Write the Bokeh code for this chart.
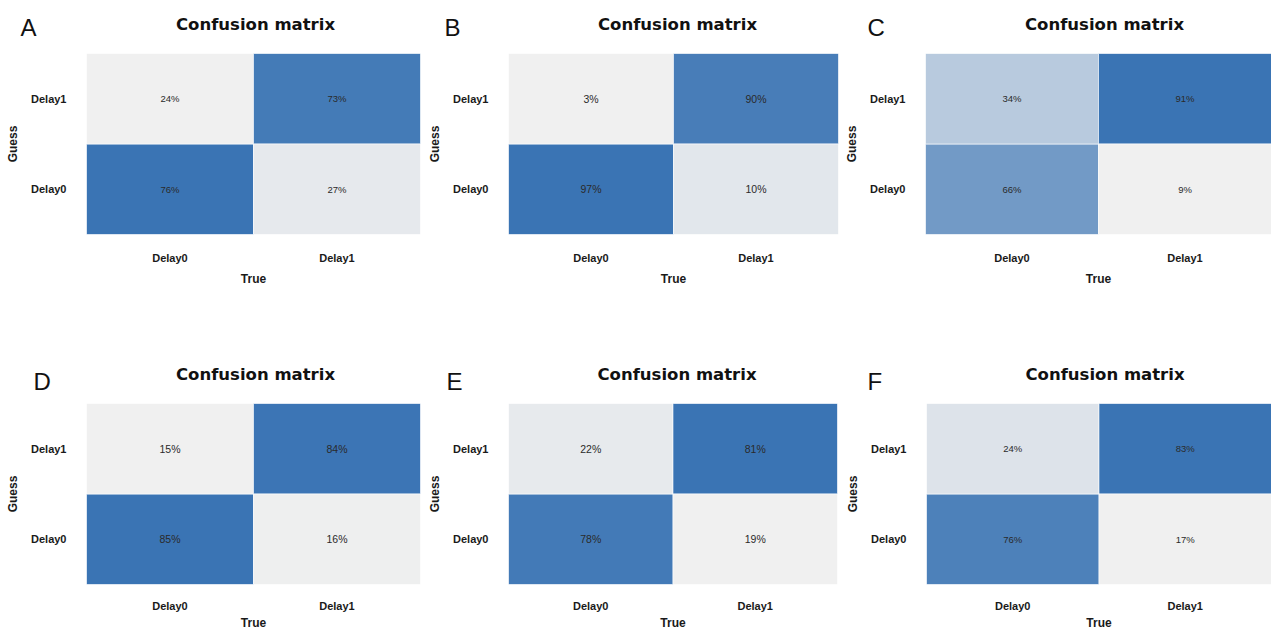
import numpy as np
from bokeh.plotting import figure
from bokeh.models import Label, ColumnDataSource, LinearColorMapper
from bokeh.layouts import row, column
from bokeh.embed import file_html
from bokeh.resources import INLINE
from bokeh.core.properties import value
from bokeh.transform import transform

# ---- data: percentages of each (True, Guess) cell, one entry per panel ----
panels = ["A", "B", "C", "D", "E", "F"]
classes = ["Delay0", "Delay1"]
true0_guess0 = [76, 97, 66, 85, 78, 76]
true0_guess1 = [24, 3, 34, 15, 22, 24]
true1_guess1 = [73, 90, 91, 84, 81, 83]
true1_guess0 = [27, 10, 9, 16, 19, 17]
title_text = "Confusion matrix"

# ---- layout / style ----
frame_w = [334, 330, 346, 334, 329, 345]
frame_h = 181
border_l = [86, 84, 84, 86, 84, 84]
border_r = [4, 3, 0, 4, 5, 0]
border_top = 53
border_bottom = [116, 116, 116, 46, 46, 46]
cell_font = ["9.5px", "10.5px", "9.5px", "10.5px", "10.5px", "9.5px"]
letter_dx = [-66, -64, -58, -53, -62, -59]   # from frame left
letter_dy = [7, 7, 7, 3, 3, 3]               # within the outer top slot
title_dx = [2, 4, 6, 2, 4, 6]                # shift from frame centre
title_dy = 29                                # above frame top
tick_standoff = [17, 17, 17, 15, 15, 15]
label_standoff = [5, 5, 5, 1, 1, 1]

# light grey -> steel blue sequential palette
lo = np.array([0xF0, 0xF0, 0xF0], dtype=float)
hi = np.array([0x3A, 0x74, 0xB4], dtype=float)
palette = ["#%02x%02x%02x" % tuple(int(round(c)) for c in lo + (hi - lo) * t)
           for t in np.linspace(0, 1, 256)]

TICK_FONT = "Liberation Sans"


def make_panel(i):
    vals = [true0_guess0[i], true0_guess1[i], true1_guess1[i], true1_guess0[i]]
    src = ColumnDataSource(dict(
        true=["Delay0", "Delay0", "Delay1", "Delay1"],
        guess=["Delay0", "Delay1", "Delay1", "Delay0"],
        val=vals,
        label=["%d%%" % v for v in vals],
    ))
    mapper = LinearColorMapper(palette=palette, low=min(vals), high=max(vals))

    p = figure(x_range=classes, y_range=classes,
               frame_width=frame_w[i], frame_height=frame_h,
               min_border_left=border_l[i], min_border_right=border_r[i],
               min_border_top=border_top, min_border_bottom=border_bottom[i],
               toolbar_location=None, output_backend="svg", title=None)
    p.outline_line_color = None
    p.background_fill_color = "white"
    p.border_fill_color = "white"
    p.grid.grid_line_color = None

    p.rect(x="true", y="guess", width=1, height=1, source=src,
           fill_color=transform("val", mapper),
           line_color="white", line_width=1, line_alpha=0.6)
    p.text(x="true", y="guess", text="label", source=src,
           text_align="center", text_baseline="middle",
           text_font=value("Liberation Sans"), text_font_size=cell_font[i],
           text_color="#2a2a2a")

    for ax in (p.xaxis[0], p.yaxis[0]):
        ax.axis_line_color = None
        ax.major_tick_line_color = None
        ax.minor_tick_line_color = None
        ax.major_tick_out = 0
        ax.major_tick_in = 0
        ax.major_label_text_font = TICK_FONT
        ax.major_label_text_font_style = "bold"
        ax.major_label_text_font_size = "11px"
        ax.major_label_text_color = "#1a1a1a"
        ax.axis_label_text_font = TICK_FONT
        ax.axis_label_text_font_style = "bold"
        ax.axis_label_text_font_size = "12px"
        ax.axis_label_text_color = "#1a1a1a"

    p.xaxis.axis_label = "True"
    p.xaxis.major_label_standoff = tick_standoff[i]
    p.xaxis.axis_label_standoff = label_standoff[i]
    p.yaxis.axis_label = "Guess"
    p.yaxis.major_label_standoff = 20
    p.yaxis.axis_label_standoff = 8
    p.yaxis.major_label_orientation = "horizontal"

    # heading and panel letter live in the top side panel (not clipped to the frame)
    p.add_layout(Label(x=frame_w[i] / 2 + title_dx[i], y=title_dy,
                       x_units="screen", y_units="screen",
                       text=title_text, text_font="DejaVu Sans", text_font_style="bold",
                       text_font_size="16.5px", text_color="#111111",
                       text_align="center", text_baseline="middle"), "above")
    p.add_layout(Label(x=letter_dx[i], y=letter_dy[i], x_units="screen", y_units="screen",
                       text=panels[i], text_font="Liberation Sans",
                       text_font_size="24px", text_color="#111111",
                       text_align="left", text_baseline="middle"), "above")
    return p


figs = [make_panel(i) for i in range(6)]
layout = column(row(*figs[:3]), row(*figs[3:]))

html = file_html(layout, INLINE)
html = html.replace("<head>", "<head><style>body{margin:0;}</style>", 1)
open("out.html", "w").write(html)
